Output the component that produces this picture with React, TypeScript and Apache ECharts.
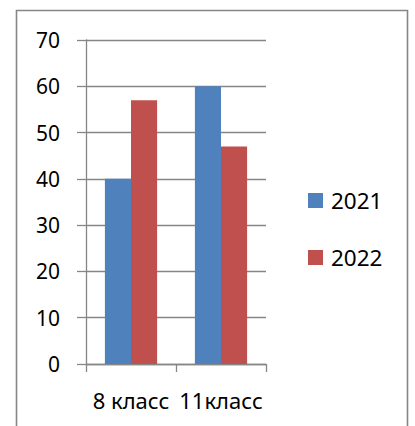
import React, { useEffect, useRef } from "react";
import * as echarts from "echarts";

const categories = ["8 класс", "11класс"];
const seriesNames = ["2021", "2022"];
const values2021 = [40, 60];
const values2022 = [57, 47];
const yTicks = { min: 0, max: 70, interval: 10 };

export default function App() {
  const ref = useRef<HTMLDivElement>(null);
  useEffect(() => {
    if (!ref.current) return;
    const chart = echarts.init(ref.current, null, { renderer: "svg" });
    const font = "'Noto Sans', 'Open Sans', sans-serif";
    chart.setOption({
      animation: false,
      backgroundColor: "#ffffff",
      textStyle: { fontFamily: font },
      graphic: [
        {
          type: "rect",
          shape: { x: 16.5, y: 10.5, width: 391, height: 430 },
          style: { fill: "none", stroke: "#868686", lineWidth: 1.6 },
          silent: true,
        },
      ],
      grid: { left: 86, right: 149, top: 40, bottom: 62 },
      legend: {
        orient: "vertical",
        left: 308,
        top: 189,
        padding: 0,
        itemWidth: 15,
        itemHeight: 15,
        itemGap: 34,
        icon: "rect",
        data: seriesNames,
        textStyle: { fontFamily: font, fontSize: 22.5, color: "#000", padding: [0, 0, 0, 3] },
      },
      xAxis: {
        type: "category",
        data: categories,
        axisLine: { show: true, lineStyle: { color: "#868686", width: 1.3 } },
        axisTick: { show: true, length: 8, alignWithLabel: false, lineStyle: { color: "#868686", width: 1.3 } },
        axisLabel: { fontFamily: font, fontSize: 22, color: "#000", margin: 25, interval: 0 },
      },
      yAxis: {
        type: "value",
        min: yTicks.min,
        max: yTicks.max,
        interval: yTicks.interval,
        axisLine: { show: true, lineStyle: { color: "#868686", width: 1.3 } },
        axisTick: { show: true, length: 9, lineStyle: { color: "#868686", width: 1.3 } },
        splitLine: { show: true, lineStyle: { color: "#868686", width: 1.3 } },
        axisLabel: { fontFamily: font, fontSize: 21, color: "#000", margin: 26 },
      },
      series: [
        {
          name: seriesNames[0],
          type: "bar",
          data: values2021,
          itemStyle: { color: "#4F81BD" },
          barGap: "0%",
          barCategoryGap: "42%",
        },
        {
          name: seriesNames[1],
          type: "bar",
          data: values2022,
          itemStyle: { color: "#C0504D" },
          barGap: "0%",
          barCategoryGap: "42%",
        },
      ],
    });
    return () => chart.dispose();
  }, []);
  return (
    <div
      ref={ref}
      style={{ position: "absolute", left: 0, top: 0, width: 415, height: 426 }}
    />
  );
}
